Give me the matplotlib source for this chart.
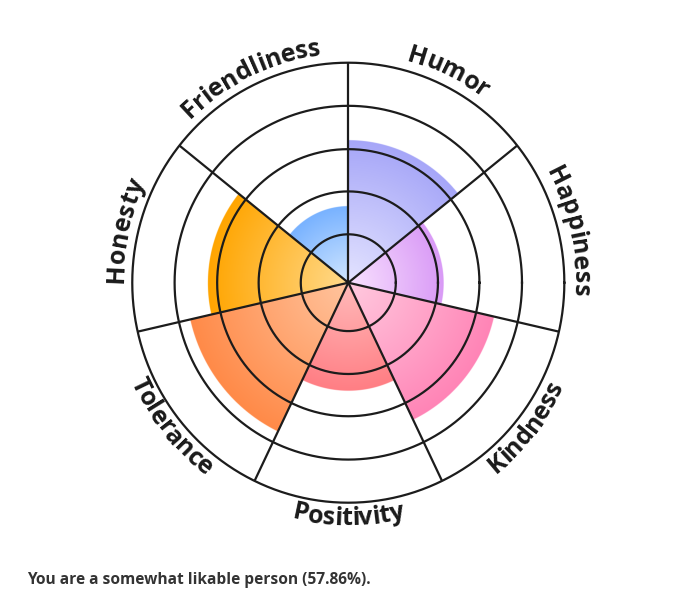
import numpy as np
import matplotlib
matplotlib.use("Agg")
import matplotlib.pyplot as plt
from matplotlib.colors import to_rgb
from matplotlib.font_manager import FontProperties, findfont, get_font

# values (0-100 per trait, clockwise from top)
labels = ["Humor", "Happiness", "Kindness", "Positivity", "Tolerance", "Honesty", "Friendliness"]
scores = [65, 44, 69, 49, 75, 65, 35]
outer_colors = ["#a6a6f8", "#d99af6", "#ff84b6", "#ff7e84", "#ff8a48", "#ffa500", "#78b2ff"]
inner_colors = ["#e4e4ff", "#f9e2ff", "#ffcadf", "#ffbaba", "#ffc49e", "#ffda8c", "#d2e7ff"]
rings = [22, 41.5, 60.7, 80.4, 100]
caption = "You are a somewhat likable person (57.86%)."

W, H, DPI = 680, 601, 100
cx, cy = 348.3, 282.7      # chart centre in pixels (from top-left)
sx = 0.982                 # the original is slightly squeezed sideways
R = 220.0                  # outer radius in px
n = len(labels)
step = 360 / n

fig = plt.figure(figsize=(W / DPI, H / DPI), dpi=DPI)
ax = fig.add_axes([0, 0, 1, 1])
ax.set_xlim(-cx / sx, (W - cx) / sx)
ax.set_ylim(-(H - cy), cy)
ax.axis("off")

# gradient wedges as one RGBA image
N = 1100
g = np.linspace(-R, R, N)
X, Y = np.meshgrid(g, g)
rr = np.hypot(X, Y)
phi = (90 - np.degrees(np.arctan2(Y, X))) % 360
k = np.minimum((phi // step).astype(int), n - 1)
rv = np.array(scores)[k] / 100 * R
t = np.clip(rr / rv, 0, 1)[..., None]
c_in = np.array([to_rgb(c) for c in inner_colors])[k]
c_out = np.array([to_rgb(c) for c in outer_colors])[k]
rgb = c_in + (c_out - c_in) * t
pix = 2 * R / N
alpha = np.clip((rv - rr) / pix + 0.5, 0, 1)
img = np.dstack([rgb, alpha])
ax.imshow(img, extent=(-R, R, -R, R), origin="lower", aspect="auto",
          interpolation="antialiased", zorder=1)

# grid
th = np.linspace(0, 2 * np.pi, 721)
for rg in rings:
    r = rg / 100 * R
    ax.plot(r * np.cos(th), r * np.sin(th), color="#1c1c1c", lw=1.6, zorder=2)
for i in range(n):
    a = np.radians(90 - i * step)
    ax.plot([0, R * np.cos(a)], [0, R * np.sin(a)], color="#1c1c1c", lw=1.6,
            zorder=2, solid_capstyle="butt")

# curved labels
FS = 18
fp = FontProperties(family=["Open Sans", "DejaVu Sans"], weight="bold", size=FS)
font = get_font(findfont(fp))
font.set_size(FS, DPI)


def curved(text, mid):
    adv = [font.load_char(ord(ch)).linearHoriAdvance / 65536 for ch in text]
    L = sum(adv)
    top = mid > 0 or mid < -180
    r = 229.5 if top else 242.5
    pos = 0
    for ch, w in zip(text, adv):
        s = pos + w / 2 - L / 2
        pos += w
        if top:
            a = mid - np.degrees(s / r)
            rot = a - 90
        else:
            a = mid + np.degrees(s / r)
            rot = a + 90
        ar = np.radians(a)
        ax.text(r * np.cos(ar), r * np.sin(ar), ch, fontproperties=fp,
                color="#1a1a1a", rotation=rot, rotation_mode="anchor",
                ha="center", va="baseline", zorder=3)


for i, lab in enumerate(labels):
    mid = 90 - (i + 0.5) * step
    if mid < -180:
        mid += 360
    curved(lab, mid)

fig.text(27 / W, 1 - 584.3 / H, caption, fontsize=11.2, color="#333333",
         family=["Open Sans", "DejaVu Sans"], weight="bold",
         ha="left", va="baseline")

fig.savefig("out.png", dpi=DPI)
